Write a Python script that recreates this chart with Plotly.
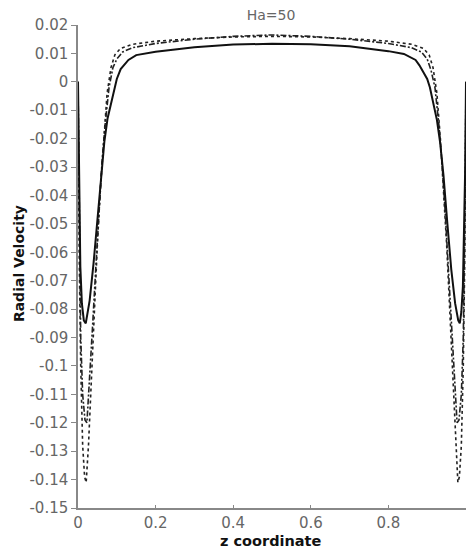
import plotly.graph_objects as go

# ---- data ----
z_solid = [0, 0.003, 0.006, 0.01, 0.015, 0.02, 0.03, 0.04, 0.05, 0.06, 0.068, 0.076, 0.088, 0.1, 0.11, 0.13,
           0.15, 0.2, 0.3, 0.4, 0.5, 0.6, 0.7, 0.8, 0.84, 0.87, 0.88, 0.89, 0.9, 0.907, 0.915, 0.925, 0.933,
           0.942, 0.952, 0.962, 0.972, 0.98, 0.984, 0.988, 0.992, 0.995, 0.998, 1.0]
v_solid = [0, -0.04, -0.065, -0.078, -0.084, -0.085, -0.077, -0.064, -0.048, -0.032, -0.021, -0.013, -0.006,
           0.001, 0.0045, 0.0077, 0.0094, 0.0106, 0.0122, 0.0131, 0.0134, 0.0132, 0.0125, 0.0108, 0.0098,
           0.0077, 0.0058, 0.0035, 0.001, -0.002, -0.007, -0.0134, -0.021, -0.033, -0.05, -0.066, -0.078,
           -0.084, -0.085, -0.081, -0.072, -0.055, -0.03, 0]

z_dash = [0, 0.003, 0.007, 0.012, 0.018, 0.023, 0.03, 0.038, 0.046, 0.054, 0.062, 0.07, 0.08, 0.09, 0.1, 0.115,
          0.14, 0.2, 0.3, 0.4, 0.5, 0.6, 0.7, 0.8, 0.86, 0.885, 0.9, 0.91, 0.92, 0.93, 0.938, 0.946, 0.954,
          0.962, 0.97, 0.977, 0.982, 0.988, 0.993, 0.997, 1.0]
v_dash = [0, -0.05, -0.09, -0.11, -0.119, -0.12, -0.105, -0.085, -0.065, -0.045, -0.028, -0.015, -0.002, 0.005,
          0.008, 0.0105, 0.012, 0.0135, 0.015, 0.016, 0.0165, 0.016, 0.015, 0.0135, 0.012, 0.0105, 0.008,
          0.004, -0.002, -0.015, -0.028, -0.045, -0.065, -0.085, -0.105, -0.12, -0.119, -0.11, -0.09, -0.05, 0]

z_dot = [0, 0.003, 0.007, 0.012, 0.017, 0.021, 0.027, 0.034, 0.042, 0.05, 0.058, 0.066, 0.075, 0.085, 0.095,
         0.11, 0.14, 0.2, 0.3, 0.4, 0.5, 0.6, 0.7, 0.8, 0.86, 0.89, 0.905, 0.915, 0.925, 0.934, 0.942, 0.95,
         0.958, 0.966, 0.973, 0.979, 0.983, 0.988, 0.993, 0.997, 1.0]
v_dot = [0, -0.06, -0.1, -0.128, -0.139, -0.141, -0.128, -0.105, -0.08, -0.057, -0.037, -0.02, -0.004, 0.005,
         0.0095, 0.0118, 0.0132, 0.0143, 0.0152, 0.0158, 0.016, 0.0158, 0.0152, 0.0143, 0.0132, 0.0118,
         0.0095, 0.005, -0.004, -0.02, -0.037, -0.057, -0.08, -0.105, -0.128, -0.141, -0.139, -0.128, -0.1,
         -0.06, 0]

y_tickvals = [0.02, 0.01, 0, -0.01, -0.02, -0.03, -0.04, -0.05, -0.06, -0.07, -0.08, -0.09, -0.1, -0.11,
              -0.12, -0.13, -0.14, -0.15]
y_ticktext = ["0.02", "0.01", "0", "-0.01", "-0.02", "-0.03", "-0.04", "-0.05", "-0.06", "-0.07", "-0.08",
              "-0.09", "-0.1", "-0.11", "-0.12", "-0.13", "-0.14", "-0.15"]
x_tickvals = [0, 0.2, 0.4, 0.6, 0.8]
x_ticktext = ["0", "0.2", "0.4", "0.6", "0.8"]

title_text = "Ha=50"
x_title = "z coordinate"
y_title = "Radial Velocity"

fig = go.Figure()
fig.add_trace(go.Scatter(x=z_dot, y=v_dot, mode="lines", cliponaxis=False,
                         line=dict(color="#222", width=1.6, dash="dot")))
fig.add_trace(go.Scatter(x=z_dash, y=v_dash, mode="lines", cliponaxis=False,
                         line=dict(color="#222", width=1.6, dash="6px,2px,2px,2px")))
fig.add_trace(go.Scatter(x=z_solid, y=v_solid, mode="lines", cliponaxis=False,
                         line=dict(color="#111", width=2)))

font_fam = "DejaVu Sans, Verdana, sans-serif"
fig.update_layout(
    width=468, height=550,
    margin=dict(l=78, r=2, t=25, b=42, autoexpand=False),
    paper_bgcolor="white", plot_bgcolor="white",
    showlegend=False,
    font=dict(family=font_fam, color="#555", size=13),
    title=dict(text=title_text, x=0.579, xanchor="center", y=0.973, yanchor="middle",
               font=dict(size=14, color="#666", family=font_fam)),
    annotations=[
        dict(text="<b>" + x_title + "</b>", xref="paper", yref="paper", x=0.498, y=-0.069,
             xanchor="center", yanchor="middle", showarrow=False,
             font=dict(size=14.5, color="#111", family=font_fam)),
        dict(text="<b>" + y_title + "</b>", xref="paper", yref="paper", x=-0.152, y=0.505,
             xanchor="center", yanchor="middle", showarrow=False, textangle=-90,
             font=dict(size=14, color="#111", family=font_fam)),
    ],
)
fig.update_xaxes(range=[0, 1], tickvals=x_tickvals, ticktext=x_ticktext, automargin=False,
                 showgrid=False, zeroline=False, showline=True, linecolor="#888", linewidth=1.5,
                 ticks="inside", ticklen=3, tickcolor="#888",
                 tickfont=dict(size=15, color="#666"))
fig.update_yaxes(range=[-0.15, 0.02], tickvals=y_tickvals, ticktext=y_ticktext, automargin=False,
                 showgrid=False, zeroline=False, showline=True, linecolor="#888", linewidth=1.5,
                 ticks="outside", ticklen=5, tickcolor="#888",
                 tickfont=dict(size=15, color="#666"))

fig.write_html("out.html", config={"displayModeBar": False},
               post_script="document.body.style.margin='0';document.body.style.overflow='hidden';")
